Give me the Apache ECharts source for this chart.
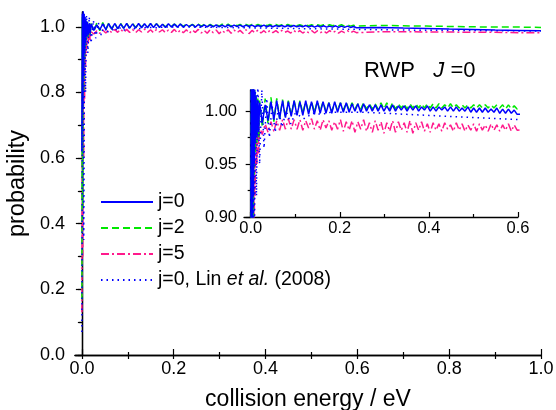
<!DOCTYPE html>
<html><head><meta charset="utf-8">
<script src="https://cdn.jsdelivr.net/npm/echarts@6/dist/echarts.min.js"></script>
<style>html,body{margin:0;padding:0;background:#fff}#c{width:556px;height:410px}</style>
</head><body><div id="c"></div>
<script>
// shared collision energies (eV) for j=0, j=2, j=5
const energy = [0.000,0.001,0.002,0.003,0.004,0.005,0.006,0.007,0.008,0.009,0.010,0.012,0.014,0.016,0.018,0.020,
0.026,0.0325,0.039,0.0455,0.052,0.0585,0.065,0.0715,0.078,0.0845,0.091,0.0975,
0.104,0.1105,0.117,0.1235,0.13,0.1365,0.143,0.1495,0.156,0.1625,0.169,0.1755,0.182,0.1885,0.195,0.2015,
0.208,0.2145,0.221,0.2275,0.234,0.2405,0.247,0.2535,0.26,0.2665,0.273,0.2795,0.286,0.2925,0.299,
0.3055,0.312,0.3185,0.325,0.3315,0.338,0.3445,0.351,0.3575,0.364,0.3705,0.377,0.3835,0.39,0.3965,0.403,
0.4095,0.416,0.4225,0.429,0.4355,0.442,0.4485,0.455,0.4615,0.468,0.4745,0.481,0.4875,0.494,0.5005,
0.507,0.5135,0.52,0.5265,0.533,0.5395,0.546,0.5525,0.559,0.5655,0.572,0.5785,0.585,0.5915,0.598,
0.65,0.70,0.75,0.80,0.85,0.90,0.95,1.00];

const probJ0 = [0.62,1.04,0.75,1.05,0.85,1.04,0.92,1.03,0.95,1.02,0.97,1.015,0.975,1.01,0.98,1.008,
0.989,1.006,0.991,1.009,0.992,1.010,0.993,1.010,0.994,1.009,0.995,1.010,
0.996,1.009,0.996,1.010,0.997,1.009,0.997,1.010,0.998,1.009,0.998,1.008,0.998,1.009,0.999,1.008,
0.999,1.008,0.999,1.007,1.000,1.007,0.999,1.007,1.000,1.006,1.000,1.006,1.000,1.006,1.000,
1.005,1.000,1.006,1.000,1.005,1.001,1.005,1.000,1.005,1.001,1.005,1.000,1.004,1.001,1.005,1.000,
1.004,1.000,1.004,1.001,1.004,1.000,1.004,1.000,1.004,1.000,1.003,1.000,1.004,0.999,1.003,
0.999,1.003,0.999,1.003,0.999,1.002,0.999,1.003,0.998,1.002,0.998,1.002,0.998,1.001,0.997,
0.998,0.996,0.995,0.993,0.992,0.990,0.989,0.988];

const probJ2 = [0.17,1.03,0.45,1.04,0.80,1.03,0.90,1.02,0.94,1.02,0.96,1.015,0.97,1.012,0.975,1.01,
0.985,1.012,0.988,1.013,0.990,1.012,0.993,1.011,0.994,1.010,0.996,1.010,
0.997,1.010,0.998,1.009,0.999,1.009,0.999,1.009,1.000,1.009,1.000,1.008,1.000,1.008,1.001,1.008,
1.001,1.008,1.001,1.008,1.002,1.007,1.002,1.008,1.002,1.007,1.002,1.007,1.002,1.008,1.002,
1.008,1.002,1.008,1.002,1.007,1.003,1.007,1.002,1.007,1.003,1.007,1.003,1.007,1.003,1.007,1.003,
1.007,1.003,1.007,1.003,1.006,1.003,1.007,1.003,1.006,1.003,1.006,1.003,1.006,1.003,1.006,
1.003,1.006,1.003,1.006,1.003,1.006,1.003,1.006,1.003,1.006,1.002,1.006,1.002,1.005,1.002,
1.004,1.003,1.002,1.001,1.000,0.999,0.999,0.998];

const probJ5 = [0.13,0.90,0.30,0.95,0.60,0.98,0.78,0.99,0.88,0.99,0.92,0.99,0.95,0.99,0.96,0.985,
0.978,0.988,0.980,0.990,0.981,0.991,0.982,0.992,0.983,0.993,0.983,0.992,
0.983,0.992,0.982,0.991,0.984,0.993,0.983,0.991,0.982,0.992,0.984,0.991,0.982,0.990,0.983,0.992,
0.981,0.990,0.982,0.991,0.980,0.990,0.983,0.992,0.981,0.989,0.980,0.991,0.982,0.990,0.979,
0.989,0.981,0.991,0.980,0.990,0.982,0.989,0.980,0.991,0.979,0.989,0.982,0.990,0.981,0.988,0.980,
0.989,0.982,0.988,0.981,0.989,0.983,0.987,0.981,0.989,0.982,0.988,0.981,0.987,0.982,0.988,
0.981,0.988,0.982,0.987,0.981,0.988,0.982,0.987,0.981,0.987,0.982,0.988,0.981,0.987,0.982,
0.985,0.985,0.984,0.984,0.983,0.983,0.982,0.982];

// Lin et al. (2008), j=0
const linEnergy = [0.000,0.002,0.004,0.006,0.008,0.010,0.013,0.016,0.020,0.025,0.030,0.036,0.042,0.048,0.055,0.062,0.070,0.080,0.090,0.100,
0.12,0.14,0.16,0.18,0.20,0.25,0.30,0.35,0.40,0.45,0.50,0.55,0.60,0.70,0.80,0.90,1.00];
const linProb = [0.07,1.04,0.35,1.03,0.80,1.035,0.92,1.03,0.95,1.02,0.965,1.012,0.975,1.006,0.98,1.003,0.985,1.000,0.988,0.998,
0.993,0.998,0.997,0.999,0.999,0.999,0.998,0.997,0.996,0.995,0.994,0.993,0.992,0.990,0.989,0.988,0.987];

const mainXTicks = [0,0.2,0.4,0.6,0.8,1.0];
const mainXMinor = [0.1,0.3,0.5,0.7,0.9];
const mainYTicks = [0,0.2,0.4,0.6,0.8,1.0];
const mainYMinor = [0.1,0.3,0.5,0.7,0.9];
const insetXTicks = [0,0.2,0.4,0.6];
const insetXMinor = [0.1,0.3,0.5];
const insetYTicks = [0.90,0.95,1.00];
const insetYMinor = [0.925,0.975];

const names = ['j=0','j=2','j=5','j=0, Lin et al. (2008)'];
const colors = ['#0000ff','#00e800','#ff1a8c','#0000ff'];

const FONT = 'Liberation Sans, Arial, sans-serif';
const pair = (xs, ys) => xs.map((x,i)=>[x, ys[i]]);

const chart = echarts.init(document.getElementById('c'), null, {renderer:'canvas'});

function tickAxis(type, grid, pos, min, max, vals, len, inside, showLine) {
  return {
    type:'value', gridIndex:grid, position:pos, min:min, max:max,
    axisLine:{show:showLine, lineStyle:{color:'#000', width:1.3}},
    axisTick:{show:true, inside:inside, length:len, customValues:vals, lineStyle:{color:'#000', width:1.2}},
    axisLabel:{show:false}, splitLine:{show:false}
  };
}

const lineStyles = [
  {width:1.5, type:'solid'},
  {width:1.5, type:[7,4]},
  {width:1.5, type:[8,3,2,3]},
  {width:1.5, type:[1.5,4]}
];
const dataSets = [pair(energy,probJ0), pair(energy,probJ2), pair(energy,probJ5), pair(linEnergy,linProb)];
const series = [];
[0,1].forEach(g => {
  [2,1,3,0].forEach(k => {
    series.push({
      name: names[k], type:'line', xAxisIndex: g===0?0:3, yAxisIndex: g===0?0:3,
      data: dataSets[k], showSymbol:false, symbol:'none', clip:true,
      lineStyle: Object.assign({color:colors[k]}, lineStyles[k]),
      itemStyle:{color:colors[k]}, animation:false, z: 3
    });
  });
});

chart.setOption({
  backgroundColor:'#fff',
  animation:false,
  textStyle:{fontFamily:FONT},
  grid:[
    {left:75, right:15, top:12, bottom:55, containLabel:false, outerBoundsMode:'none'},
    {left:244, right:38, top:90, bottom:193, containLabel:false, outerBoundsMode:'none'}
  ],
  xAxis:[
    { type:'value', gridIndex:0, position:'bottom', min:-0.015, max:1.0,
      axisLine:{show:true, lineStyle:{color:'#000', width:1.3}},
      axisTick:{show:true, inside:true, length:6, customValues:mainXTicks, lineStyle:{color:'#000', width:1.2}},
      axisLabel:{show:true, customValues:mainXTicks, formatter:v=>v.toFixed(1), fontSize:18, color:'#000', margin:5, fontFamily:FONT},
      splitLine:{show:false},
      name:'collision energy / eV', nameLocation:'middle', nameGap:33,
      nameTextStyle:{fontSize:23, color:'#000', fontFamily:FONT} },
    tickAxis('x',0,'bottom',-0.015,1.0,mainXMinor,3,true,false),
    tickAxis('x',0,'top',-0.015,1.0,mainXMinor.concat(mainXTicks),4,true,true),
    { type:'value', gridIndex:1, position:'bottom', min:-0.015, max:0.6,
      axisLine:{show:true, lineStyle:{color:'#000', width:1.3}},
      axisTick:{show:true, inside:true, length:5, customValues:insetXTicks, lineStyle:{color:'#000', width:1.2}},
      axisLabel:{show:true, customValues:insetXTicks, formatter:v=>v.toFixed(1), fontSize:16.5, color:'#000', margin:3, fontFamily:FONT},
      splitLine:{show:false} },
    tickAxis('x',1,'bottom',-0.015,0.6,insetXMinor,3,true,false)
  ],
  yAxis:[
    { type:'value', gridIndex:0, position:'left', min:0, max:1.045,
      axisLine:{show:true, lineStyle:{color:'#000', width:1.3}},
      axisTick:{show:true, inside:false, length:6, customValues:mainYTicks, lineStyle:{color:'#000', width:1.2}},
      axisLabel:{show:true, customValues:mainYTicks, formatter:v=>v.toFixed(1), fontSize:18, color:'#000', margin:10, fontFamily:FONT},
      splitLine:{show:false},
      name:'probability', nameLocation:'middle', nameGap:39, nameRotate:90,
      nameTextStyle:{fontSize:23.5, color:'#000', fontFamily:FONT} },
    tickAxis('y',0,'left',0,1.045,mainYMinor,3,false,false),
    tickAxis('y',0,'right',0,1.045,mainYMinor.concat(mainYTicks),4,true,true),
    { type:'value', gridIndex:1, position:'left', min:0.9, max:1.02,
      axisLine:{show:true, lineStyle:{color:'#000', width:1.3}},
      axisTick:{show:true, inside:false, length:5, customValues:insetYTicks, lineStyle:{color:'#000', width:1.2}},
      axisLabel:{show:true, customValues:insetYTicks, formatter:v=>v.toFixed(2), fontSize:16.5, color:'#000', margin:7, fontFamily:FONT},
      splitLine:{show:false} },
    tickAxis('y',1,'left',0.9,1.02,insetYMinor,3,false,false)
  ],
  legend:{
    data:names, orient:'vertical', left:95, top:187,
    itemWidth:52, itemHeight:18, itemGap:6,
    itemStyle:{opacity:0},
    textStyle:{fontSize:19.5, color:'#000', fontFamily:FONT, lineHeight:18,
      rich:{n:{fontSize:19.5, fontFamily:FONT, color:'#000'}, i:{fontSize:19.5, fontStyle:'italic', fontFamily:FONT, color:'#000'}}},
    formatter: n => n.indexOf('Lin')>=0 ? '{n|j=0, Lin }{i|et al.}{n| (2008)}' : n,
    selectedMode:false
  },
  graphic:[
    { type:'text', left:364, top:60,
      style:{ text:'{a|RWP   }{i|J}{a| =0}', fill:'#000',
        rich:{ a:{fontSize:22, fontFamily:FONT, fill:'#000'}, i:{fontSize:22, fontStyle:'italic', fontFamily:FONT, fill:'#000'} } } }
  ],
  series: series
});
</script>
</body></html>
